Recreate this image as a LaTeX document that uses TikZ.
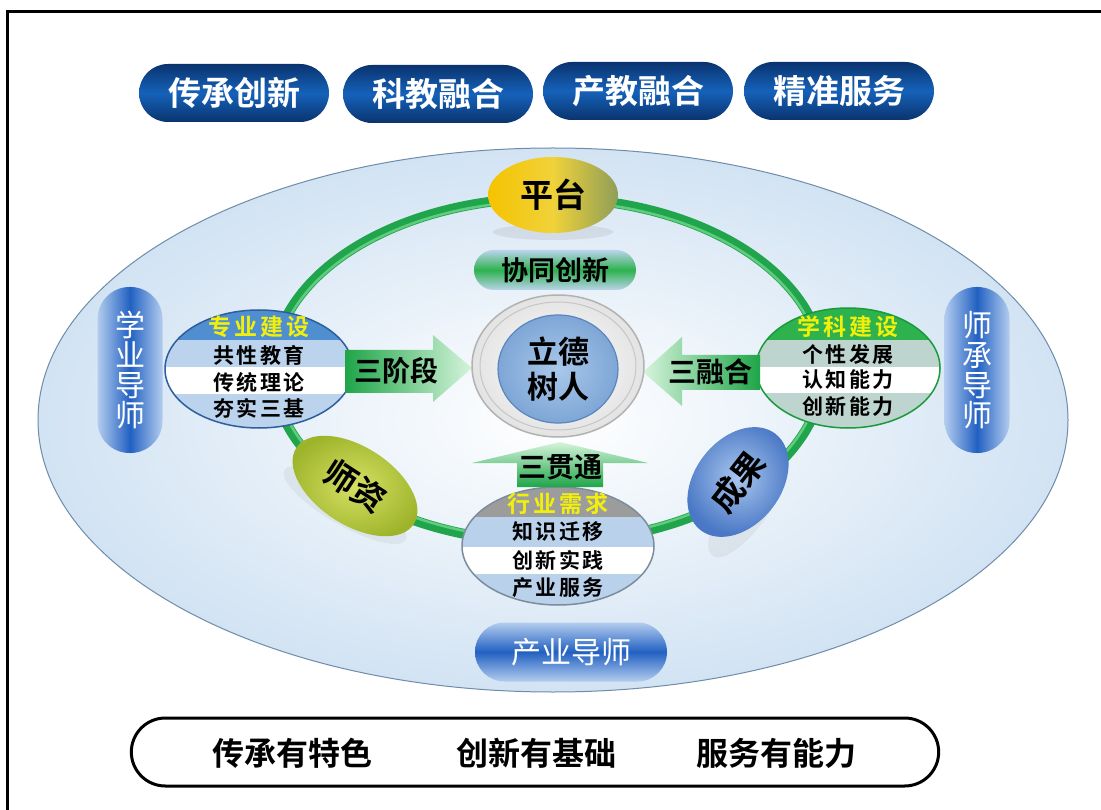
\documentclass[tikz,border=0pt]{standalone}
\usepackage{fontspec}
\newfontfamily\cjk{Noto Sans CJK SC}[BoldFont={Noto Sans CJK SC Bold}]
\newfontfamily\cjksp{Noto Sans CJK SC}[BoldFont={Noto Sans CJK SC Bold},LetterSpace=12]
\usetikzlibrary{shapes.geometric,shapes.misc}
\definecolor{pillD}{HTML}{0A336E}
\definecolor{pillM}{HTML}{1562BA}
\definecolor{bigE}{HTML}{D2E3F3}
\definecolor{bigEdge}{HTML}{6F8CA8}
\definecolor{ringG}{HTML}{20A44C}
\definecolor{ringL}{HTML}{5FCC7E}
\definecolor{mentorL}{HTML}{B3CCEE}
\definecolor{mentorD}{HTML}{2261C2}
\definecolor{hdrB}{HTML}{4F8FD0}
\definecolor{bandB}{HTML}{BBD3EC}
\definecolor{edgeB}{HTML}{2E5E9E}
\definecolor{hdrG}{HTML}{2DB24E}
\definecolor{bandG}{HTML}{BDD5CE}
\definecolor{edgeG}{HTML}{1A9A3A}
\definecolor{hdrGr}{HTML}{9C9C9C}
\definecolor{bandGB}{HTML}{B9D1EA}
\definecolor{edgeGr}{HTML}{7C8C9C}
\definecolor{yel}{HTML}{F2F00A}
\definecolor{arrD}{HTML}{1FA548}
\definecolor{arrL}{HTML}{D6F4DC}
\definecolor{ctrIn}{HTML}{A9C8EA}
\definecolor{ctrOut}{HTML}{7EA6D6}
\definecolor{ctrEdge}{HTML}{5A86BC}
\definecolor{ptL}{HTML}{F5C300}
\definecolor{ptM}{HTML}{F0D23A}
\definecolor{ptR}{HTML}{8E9E58}
\definecolor{szIn}{HTML}{D6E064}
\definecolor{szOut}{HTML}{9DB42A}
\definecolor{cgIn}{HTML}{A9C7EE}
\definecolor{cgOut}{HTML}{4A78C6}
\begin{document}
\begin{tikzpicture}[x=1pt,y=-1pt,
  toppill/.style={rounded rectangle, minimum width=190, minimum height=58,
    top color=pillD, bottom color=pillD, middle color=pillM, text=white,
    font=\cjk\bfseries\fontsize{33}{34}\selectfont, inner sep=0pt},
  mentorv/.style={rectangle, rounded corners=32, minimum width=65, minimum height=166,
    left color=mentorL, right color=mentorL, middle color=mentorD, text=white,
    align=center, font=\cjk\fontsize{30}{30}\selectfont, inner sep=0pt},
  bandtxt/.style={font=\cjksp\bfseries\fontsize{21}{22}\selectfont, inner sep=0pt, text=black},
  hdrtxt/.style={font=\cjksp\bfseries\fontsize{23}{24}\selectfont, inner sep=0pt, text=yel},
  arrtxt/.style={font=\cjk\bfseries\fontsize{28}{30}\selectfont, inner sep=0pt, text=black},
  bottxt/.style={font=\cjk\bfseries\fontsize{32}{34}\selectfont, inner sep=0pt, text=black}
]
\useasboundingbox (0,0) rectangle (1101,810);
\fill[white] (0,0) rectangle (1101,810);
\draw[line width=3] (1101,12) -- (7,12) -- (7,810);

% top pills
\node[toppill] (p1) at (234,93) {传承创新};
\node[toppill] (p2) at (438,94) {科教融合};
\node[toppill] (p3) at (638,91) {产教融合};
\node[toppill] (p4) at (839,91) {精准服务};

% big ellipse
\node[ellipse, draw=bigEdge, line width=1, minimum width=1030, minimum height=544,
  inner color=white, outer color=bigE] (big) at (553,420) {};

% mentors
\node[mentorv] (xy) at (130,370) {学\\业\\导\\师};
\node[mentorv] (sc) at (977,370) {师\\承\\导\\师};
\node[rounded rectangle, minimum width=192, minimum height=59,
  top color=mentorL, bottom color=mentorL, middle color=mentorD, text=white,
  font=\cjk\fontsize{30}{30}\selectfont, inner sep=0pt] (cy) at (571,652) {产业导师};

% green ring
\draw[ringG, line width=10] (548,370) ellipse [x radius=275, y radius=172];
\draw[ringL, line width=2.5] (548,370) ellipse [x radius=272, y radius=169];

% platform
\fill[gray, opacity=0.14] (553,232) ellipse [x radius=60, y radius=8];
\node[ellipse, minimum width=130, minimum height=76, left color=ptL,
  right color=ptR, middle color=ptM, inner sep=0pt,
  font=\cjk\bfseries\fontsize{33}{34}\selectfont] (pt) at (553,195) {平台};

% xietong
\node[rounded rectangle, minimum width=162, minimum height=40,
  top color=bandB, bottom color=bandB, middle color=hdrG, inner sep=0pt,
  font=\cjk\bfseries\fontsize{27}{28}\selectfont] (xt) at (555,270) {协同创新};

% left banded ellipse
\begin{scope}
\clip (259,369) ellipse [x radius=94, y radius=59];
\fill[hdrB] (160,305) rectangle (360,340);
\fill[bandB] (160,340) rectangle (360,367);
\fill[white] (160,367) rectangle (360,394);
\fill[bandB] (160,394) rectangle (360,432);
\end{scope}
\node[ellipse, draw=edgeB, line width=1.5, minimum width=188, minimum height=118, inner sep=0pt] (zy) at (259,369) {};
\node[hdrtxt] (zy0) at (259,327) {专业建设};
\node[bandtxt] (zy1) at (259,355) {共性教育};
\node[bandtxt] (zy2) at (259,382) {传统理论};
\node[bandtxt] (zy3) at (259,408) {夯实三基};

% right banded ellipse
\begin{scope}
\clip (848,368) ellipse [x radius=92, y radius=60];
\fill[hdrG] (750,305) rectangle (945,340);
\fill[bandG] (750,340) rectangle (945,367);
\fill[white] (750,367) rectangle (945,393);
\fill[bandG] (750,393) rectangle (945,432);
\end{scope}
\node[ellipse, draw=edgeG, line width=1.5, minimum width=184, minimum height=120, inner sep=0pt] (xk) at (848,368) {};
\node[hdrtxt] (xk0) at (848,327) {学科建设};
\node[bandtxt] (xk1) at (848,355) {个性发展};
\node[bandtxt] (xk2) at (848,380) {认知能力};
\node[bandtxt] (xk3) at (848,407) {创新能力};

% bottom banded ellipse
\begin{scope}
\clip (558,546) ellipse [x radius=96, y radius=59];
\fill[hdrGr] (455,485) rectangle (660,517);
\fill[bandGB] (455,517) rectangle (660,547);
\fill[white] (455,547) rectangle (660,574);
\fill[bandGB] (455,574) rectangle (660,610);
\end{scope}
\node[ellipse, draw=edgeGr, line width=1.5, minimum width=192, minimum height=118, inner sep=0pt] (hy) at (558,546) {};
\node[hdrtxt] (hy0) at (558,504) {行业需求};
\node[bandtxt] (hy1) at (558,532) {知识迁移};
\node[bandtxt] (hy2) at (558,560) {创新实践};
\node[bandtxt] (hy3) at (558,588) {产业服务};

% shizi & chengguo
\fill[gray, opacity=0.10, rotate around={-30:(345,505)}] (345,505) ellipse [x radius=70, y radius=20];
\node[ellipse, rotate=-33, minimum width=140, minimum height=78, inner sep=0pt,
  inner color=szIn, outer color=szOut,
  font=\cjk\bfseries\fontsize{33}{34}\selectfont] (sz) at (355,486) {师资};
\fill[gray, opacity=0.10, rotate around={55:(748,505)}] (748,505) ellipse [x radius=62, y radius=22];
\node[ellipse, rotate=52, minimum width=122, minimum height=86, inner sep=0pt,
  inner color=cgIn, outer color=cgOut,
  font=\cjk\bfseries\fontsize{33}{34}\selectfont] (cg) at (738,482) {成果};

% arrows
\shade[left color=arrD, right color=arrL] (345,350) -- (433,350) -- (433,335) -- (472,368)
  -- (433,402) -- (433,393) -- (345,393) -- cycle;
\node[arrtxt] (a1) at (396,371) {三阶段};
\shade[left color=arrL, right color=arrD] (760,355) -- (682,355) -- (682,337) -- (643,372)
  -- (682,406) -- (682,390) -- (760,390) -- cycle;
\node[arrtxt] (a2) at (710,372) {三融合};
\shade[top color=arrL, bottom color=arrD] (517,487) -- (517,463) -- (472,463) -- (560,442)
  -- (648,463) -- (603,463) -- (603,487) -- cycle;
\node[arrtxt] (a3) at (560,467) {三贯通};

% centre
\node[ellipse, draw=gray!60, line width=1.5, minimum width=172, minimum height=142,
  inner color=white, outer color=gray!22] (ctr0) at (558,366) {};
\draw[gray!45, line width=1] (558,366) ellipse [x radius=78, y radius=64];
\node[ellipse, draw=ctrEdge, line width=1.2, minimum width=120, minimum height=108,
  inner color=ctrIn, outer color=ctrOut, align=center,
  font=\cjk\bfseries\fontsize{31}{35}\selectfont] (ctr) at (558,369) {立德\\树人};

% bottom pill
\node[rounded rectangle, draw=black, line width=3, minimum width=814, minimum height=68] (bot) at (535,752) {};
\node[bottxt] (b1) at (292,753) {传承有特色};
\node[bottxt] (b2) at (536,753) {创新有基础};
\node[bottxt] (b3) at (776,753) {服务有能力};
\end{tikzpicture}
\end{document}
